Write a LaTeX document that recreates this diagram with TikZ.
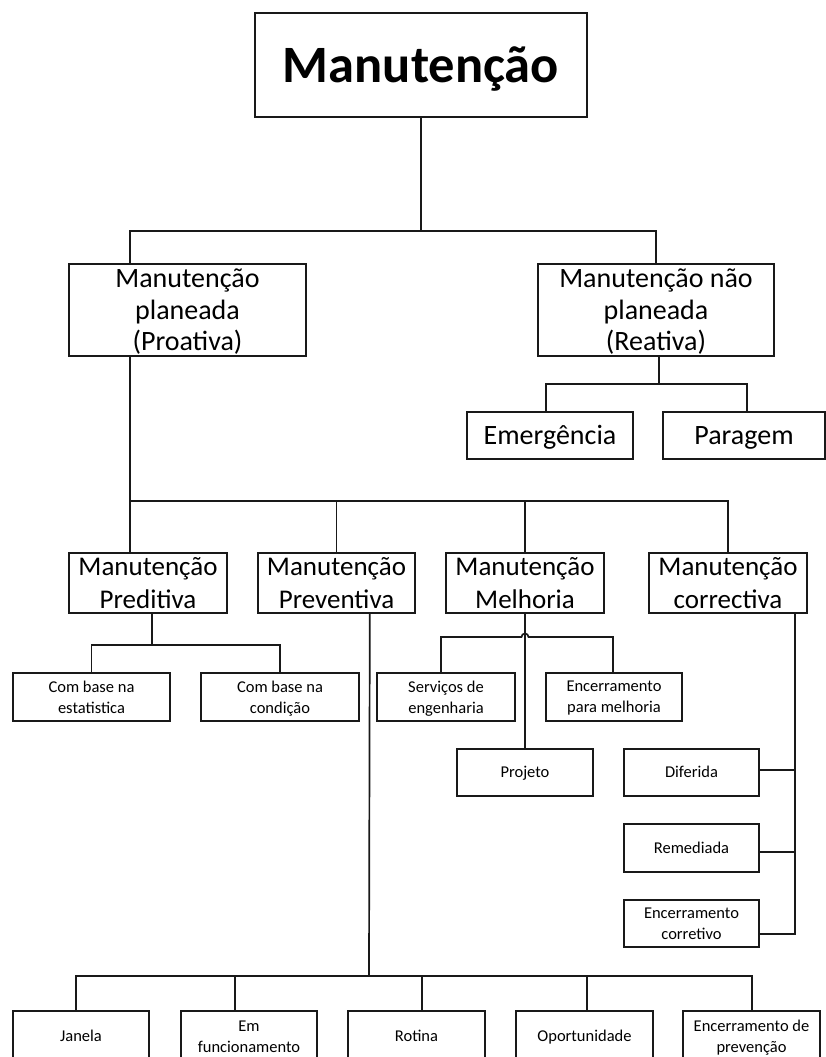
\documentclass[tikz,border=0pt]{standalone}
\usepackage{fontspec}
\setmainfont{Carlito}
\begin{document}
\begin{tikzpicture}[x=1pt,y=-1pt,
  box/.style={draw=black!90, line width=1.6pt, fill=white, align=center, inner sep=0pt},
  onebig/.style={text height=21pt, text depth=3pt},
  onesmall/.style={text height=12.4pt, text depth=1.8pt},
  multi/.style={text depth=0pt},
  lvltwo/.style={font=\fontsize{28}{31.5}\selectfont},
  lvlthree/.style={font=\fontsize{27}{33}\selectfont},
  small/.style={font=\fontsize{16.5}{21}\selectfont},
  conn/.style={draw=black!90, line width=1.7pt}]
\useasboundingbox (0,0) rectangle (826,1057);

% top
\node[box, minimum width=332pt, minimum height=104pt, text height=38pt, text depth=4pt, font=\fontsize{52.5}{60}\selectfont\bfseries] (top) at (421,65) {Manutenção};

% level 2
\node[box, lvltwo, multi, minimum width=237pt, minimum height=92pt] (pro) at (187.5,310) {Manutenção\\planeada\\(Proativa)};
\node[box, lvltwo, multi, minimum width=236pt, minimum height=92pt] (rea) at (656,310) {Manutenção não\\planeada\\(Reativa)};

\node[box, lvltwo, onebig, minimum width=166pt, minimum height=47pt] (emer) at (550,435.5) {Emergência};
\node[box, lvltwo, onebig, minimum width=162pt, minimum height=47pt] (parag) at (744,435.5) {Paragem};

% level 3
\node[box, lvlthree, multi, minimum width=158pt, minimum height=60pt] (pred) at (148,583) {Manutenção\\Preditiva};
\node[box, lvlthree, multi, minimum width=157pt, minimum height=60pt] (prev) at (336.5,583) {Manutenção\\Preventiva};
\node[box, lvlthree, multi, minimum width=158pt, minimum height=60pt] (melh) at (525,583) {Manutenção\\Melhoria};
\node[box, lvlthree, multi, minimum width=158pt, minimum height=60pt] (corr) at (728,583) {Manutenção\\correctiva};

% level 4
\node[box, small, multi, minimum width=157pt, minimum height=48pt] (est) at (91.5,697) {Com base na\\estatistica};
\node[box, small, multi, minimum width=158pt, minimum height=48pt] (cond) at (280,697) {Com base na\\condição};
\node[box, small, multi, minimum width=138pt, minimum height=48pt] (serv) at (446,697) {Serviços de\\engenharia};
\node[box, small, multi, minimum width=136pt, minimum height=48pt] (encm) at (614,697) {Encerramento\\para melhoria};
\node[box, small, onesmall, minimum width=136pt, minimum height=47pt] (proj) at (525,772.5) {Projeto};
\node[box, small, onesmall, minimum width=135pt, minimum height=47pt] (dif) at (691.5,772.5) {Diferida};
\node[box, small, onesmall, minimum width=135pt, minimum height=48pt] (rem) at (691.5,848) {Remediada};
\node[box, small, multi, minimum width=135pt, minimum height=47pt] (encc) at (691.5,923.5) {Encerramento\\corretivo};

% bottom row
\node[box, small, onesmall, minimum width=136pt, minimum height=51pt] (jan) at (81,1036.5) {Janela};
\node[box, small, multi, minimum width=136pt, minimum height=51pt] (emf) at (249,1036.5) {Em\\funcionamento};
\node[box, small, onesmall, minimum width=137pt, minimum height=51pt] (rot) at (416.5,1036.5) {Rotina};
\node[box, small, onesmall, minimum width=137pt, minimum height=51pt] (opo) at (584.5,1036.5) {Oportunidade};
\node[box, small, multi, minimum width=137pt, minimum height=51pt] (encp) at (751.5,1036.5) {Encerramento de\\prevenção};

% junctions
\coordinate (j1) at (421,231);
\coordinate (j2) at (131,501);
\coordinate (j3) at (152,645);
\coordinate (j5) at (794,934);
\coordinate (j6) at (369,976);
\coordinate (j7) at (659,384);

% connectors
\draw[conn] (top.south) -- (j1);
\draw[conn] ([xshift=62pt]pro.north west) |- (j1) -| (rea.north);

\draw[conn] ([xshift=3pt]rea.south) -- (j7);
\draw[conn] ([xshift=-4pt]emer.north) |- (j7) -| ([xshift=3pt]parag.north);

\draw[conn] ([xshift=62pt]pro.south west) -- ([xshift=62pt]pred.north west);
\draw[conn] (j2) -| (corr.north);
\draw[conn] (prev.north) -- (prev.north |- j2);
\draw[conn] (melh.north) -- (melh.north |- j2);

\draw[conn] ([xshift=4pt]pred.south) -- (j3);
\draw[conn] (est.north) |- (j3) -| (cond.north);

\draw[conn] (melh.south) -- (proj.north);
\draw[conn] ([xshift=-5pt]serv.north) |- (521.5,637) arc[start angle=180, end angle=0, radius=3.5pt] -| ([xshift=-1pt]encm.north);

\draw[conn] ([xshift=-13pt]corr.south east) |- ([yshift=-10.5pt]encc.east);
\draw[conn] ([yshift=2.5pt]dif.east) -- ([yshift=2.5pt]dif.east -| j5);
\draw[conn] ([yshift=-4pt]rem.east) -- ([yshift=-4pt]rem.east -| j5);

\draw[conn] ([xshift=-46pt]prev.south east) -- (j6);
\draw[conn] ([xshift=-5pt]jan.north) |- (j6) -| ([xshift=0.5pt]encp.north);
\draw[conn] ([xshift=-14pt]emf.north) -- ([xshift=-14pt]emf.north |- j6);
\draw[conn] ([xshift=5.5pt]rot.north) -- ([xshift=5.5pt]rot.north |- j6);
\draw[conn] ([xshift=2.5pt]opo.north) -- ([xshift=2.5pt]opo.north |- j6);
\end{tikzpicture}
\end{document}
